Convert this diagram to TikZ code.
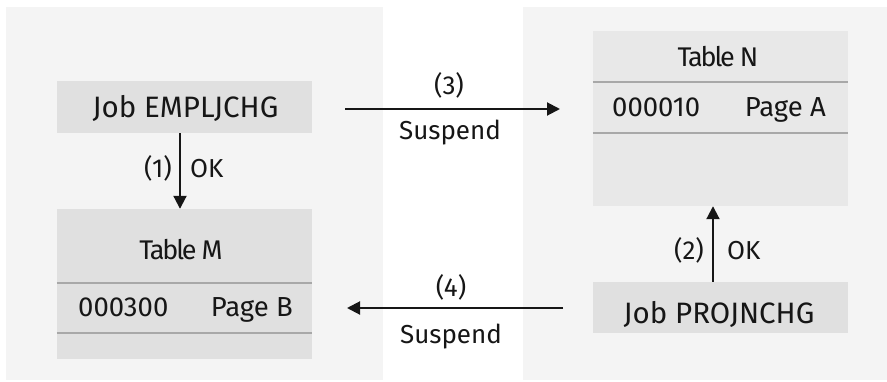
\documentclass[tikz,border=0pt]{standalone}
\usepackage{fontspec}
\setmainfont{Fira Sans}
\usetikzlibrary{arrows.meta}
\definecolor{panel}{HTML}{F4F4F4}
\definecolor{boxd}{HTML}{E0E0E0}
\definecolor{boxl}{HTML}{E8E8E8}
\definecolor{sep}{HTML}{A8A8A8}
\definecolor{ink}{HTML}{161616}
\tikzset{
  panelbox/.style={fill=panel, draw=none},
  jobbox/.style={fill=boxd, draw=none, minimum width=255pt, minimum height=52pt, inner sep=0pt},
  tablebox/.style={fill=#1, draw=none, minimum width=255pt, inner sep=0pt},
  txt/.style={text=ink, inner sep=0pt, font=\fontsize{27.5}{32}\selectfont},
  jobtxt/.style={text=ink, inner sep=0pt, font=\fontsize{29.5}{34}\selectfont},
  lbl/.style={text=ink, inner sep=0pt, font=\fontsize{26}{30}\selectfont},
  ttl/.style={text=ink, inner sep=0pt, font=\fontsize{27}{32}\selectfont\addfontfeature{LetterSpace=-8}},
  sepline/.style={draw=sep, line width=1.5pt},
  arr/.style={draw=ink, line width=2pt, -{Triangle[length=13pt,width=13pt]}}
}
\begin{document}
\begin{tikzpicture}[x=1pt,y=-1pt]
\useasboundingbox (0,0) rectangle (887,381);
% panels
\fill[panelbox] (6,7) rectangle (383,380);
\fill[panelbox] (523,7) rectangle (887,380);
% left side
\node[jobbox] (job1) at (184.5,107) {};
\node[jobtxt, anchor=base] (job1t) at (185.5,117) {Job EMPLJCHG};
\node[tablebox=boxd, minimum height=150pt] (tabM) at (184.5,284) {};
\draw[sepline] (tabM.west |- 0,283) -- (tabM.east |- 0,283);
\draw[sepline] (tabM.west |- 0,333) -- (tabM.east |- 0,333);
\node[ttl, anchor=base] (tabMt) at (181,259) {Table M};
\node[txt, anchor=base west] (tabMk) at (78,316) {000300};
\node[txt, anchor=base east] (tabMp) at (293,316) {Page B};
% right side
\node[tablebox=boxl, minimum height=175pt] (tabN) at (720.5,118.5) {};
\draw[sepline] (tabN.west |- 0,82) -- (tabN.east |- 0,82);
\draw[sepline] (tabN.west |- 0,133) -- (tabN.east |- 0,133);
\node[ttl, anchor=base] (tabNt) at (718,66) {Table N};
\node[txt, anchor=base west] (tabNk) at (612,116) {000010};
\node[txt, anchor=base east] (tabNp) at (826,116) {Page A};
\node[jobbox, minimum height=51pt] (job2) at (720.5,307.5) {};
\node[jobtxt, anchor=base] (job2t) at (719,323) {Job PROJNCHG};
% arrow 1
\draw[arr] ([xshift=-4.5pt]job1.south) -- ([xshift=-4.5pt]tabM.north);
\node[lbl, anchor=base east] (l1a) at (172,177) {(1)};
\node[lbl, anchor=base west] (l1b) at (190,177) {OK};
% arrow 2
\draw[arr] ([xshift=-7.5pt]job2.north) -- ([xshift=-7.5pt]tabN.south);
\node[lbl, anchor=base east] (l2a) at (704,259) {(2)};
\node[lbl, anchor=base west] (l2b) at (727,259) {OK};
% arrow 3
\coordinate (a3s) at (345,109);
\coordinate (a3e) at (560,109);
\draw[arr] (a3s) -- (a3e);
\node[lbl, anchor=base] (l3a) at (449,94) {(3)};
\node[lbl, anchor=base] (l3b) at (450,139) {Suspend};
% arrow 4
\coordinate (a4s) at (563,308);
\coordinate (a4e) at (347,308);
\draw[arr] (a4s) -- (a4e);
\node[lbl, anchor=base] (l4a) at (451,296) {(4)};
\node[lbl, anchor=base] (l4b) at (451,343) {Suspend};
\end{tikzpicture}
\end{document}
